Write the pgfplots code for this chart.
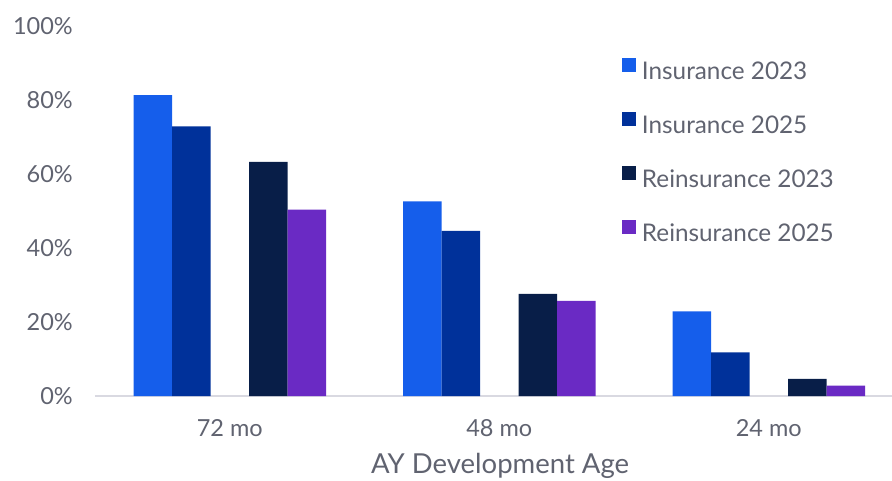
\documentclass[border=0pt]{standalone}
\usepackage{pgfplots}
\pgfplotsset{compat=1.18}
\usepackage{fontspec}
\setmainfont{Lato}
\definecolor{insA}{RGB}{21,94,235}
\definecolor{insB}{RGB}{0,49,154}
\definecolor{reA}{RGB}{8,30,72}
\definecolor{reB}{RGB}{106,42,196}
\definecolor{txt}{RGB}{96,99,112}
\definecolor{base}{RGB}{217,217,225}
\begin{document}
\begin{tikzpicture}
\useasboundingbox (-95pt,-84pt) rectangle (797pt,396pt);
\begin{axis}[
  at={(0pt,0pt)}, anchor=south west,
  scale only axis, width=797pt, height=370pt,
  xmin=-0.5, xmax=2.4573, ymin=0, ymax=100,
  axis x line*=bottom, axis y line*=left,
  x axis line style={draw=base, line width=1.5pt, -},
  y axis line style={draw=none},
  major tick length=0pt,
  xtick={0,1,2}, xticklabels={72 mo,48 mo,24 mo},
  ytick={0,20,40,60,80,100},
  yticklabels={0\%,20\%,40\%,60\%,80\%,100\%},
  tick label style={font=\fontsize{23.5}{26}\selectfont, text=txt},
  xticklabel style={anchor=base, inner sep=0pt, yshift=-40pt},
  yticklabel style={anchor=east, inner sep=0pt, xshift=-22pt},
  xlabel={AY Development Age},
  xlabel style={at={(axis description cs:0.5082,0)}, anchor=base, inner sep=0pt, yshift=-77pt, font=\fontsize{27.5}{30}\selectfont, text=txt},
  ybar, bar width=38.5pt,
  legend style={at={(axis description cs:0.6612,0.9127)}, anchor=north west,
    draw=none, fill=none, inner sep=0pt, outer sep=0pt, row sep=27.9pt, column sep=6pt,
    font=\fontsize{24.3}{26}\selectfont, text=txt,
    nodes={inner sep=0pt, text height=17pt, text depth=5pt}},
  legend cell align=left,
  legend image code/.code={\fill (0pt,1pt) rectangle (14pt,15pt);},
]
\addplot[fill=insA, draw=none, bar shift=-77pt] coordinates {(0,81.3) (1,52.6) (2,22.9)};
\addplot[fill=insB, draw=none, bar shift=-38.5pt] coordinates {(0,72.9) (1,44.6) (2,11.8)};
\addplot[fill=reA, draw=none, bar shift=38.5pt] coordinates {(0,63.3) (1,27.6) (2,4.6)};
\addplot[fill=reB, draw=none, bar shift=77pt] coordinates {(0,50.4) (1,25.7) (2,2.8)};
\legend{Insurance 2023,Insurance 2025,Reinsurance 2023,Reinsurance 2025}
\end{axis}
\end{tikzpicture}
\end{document}
